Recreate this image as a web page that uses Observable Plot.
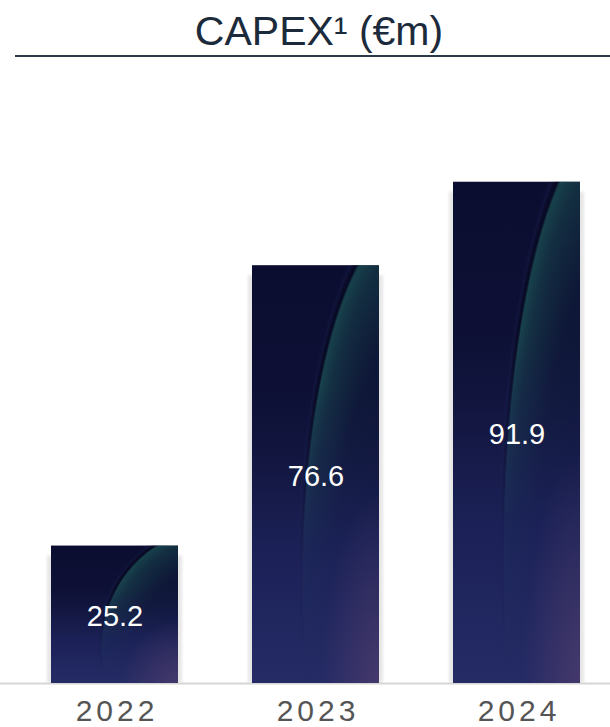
<!DOCTYPE html>
<html>
<head>
<meta charset="utf-8">
<script src="https://cdn.jsdelivr.net/npm/d3@7"></script>
<script src="https://cdn.jsdelivr.net/npm/@observablehq/plot@0.6"></script>
<style>
  html, body { margin: 0; padding: 0; background: #ffffff; }
  #wrap { width: 610px; height: 727px; overflow: hidden; }
  #title {
    font-family: "Liberation Sans", Arial, sans-serif;
    font-size: 41px; line-height: 48px; color: #1c2b3b;
    text-align: center; margin-left: 15px; padding-left: 13px;
    padding-top: 7px; height: 48px; border-bottom: 2px solid #2b3a4a;
    white-space: nowrap;
  }
  #chart svg { display: block; overflow: visible; }
</style>
</head>
<body>
<div id="wrap">
  <div id="title">CAPEX¹ (€m)</div>
  <div id="chart"></div>
</div>
<script>
const years = ["2022", "2023", "2024"];
const capex = [25.2, 76.6, 91.9];
const valueLabels = ["25.2", "76.6", "91.9"];

const data = years.map((y, i) => ({year: y, value: capex[i], label: valueLabels[i]}));

const common = {x: "year", y: "value"};

const svg = Plot.plot({
  width: 610,
  height: 670,
  marginTop: 26,
  marginBottom: 44,
  marginLeft: 0,
  marginRight: 0,
  style: {fontFamily: "'Liberation Sans', Arial, sans-serif", fontSize: "30px", color: "#555555", background: "white"},
  x: {domain: years, range: [20, 610], paddingInner: 0.37, paddingOuter: 0.149, label: null, tickSize: 0, tickPadding: 16},
  y: {domain: [0, 110], axis: null},
  marks: [
    Plot.barY(data, {...common, fill: "#000000", insetTop: 10}),
    Plot.ruleY([0], {stroke: "#d6d6d6", strokeWidth: 2}),
    Plot.barY(data, {...common, fill: "url(#capBase)"}),
    Plot.barY(data, {...common, fill: "url(#capTeal)"}),
    Plot.barY(data, {...common, fill: "url(#capBottom)"}),
    Plot.barY(data, {...common, fill: "url(#capPurple)"}),
    Plot.text(data, {x: "year", y: d => d.value / 2, text: "label", fill: "white", fontSize: 29, dy: 2})
  ]
});

const defs = `
<defs>
  <linearGradient id="capBase" x1="0" y1="0" x2="0" y2="1">
    <stop offset="0" stop-color="#0b0d30"/>
    <stop offset="0.5" stop-color="#0f1238"/>
    <stop offset="1" stop-color="#20265e"/>
  </linearGradient>
  <radialGradient id="capTeal" cx="1.26" cy="0.75" r="0.915">
    <stop offset="0" stop-color="#1a4e50" stop-opacity="0"/>
    <stop offset="0.65" stop-color="#1a4e50" stop-opacity="0.12"/>
    <stop offset="0.86" stop-color="#1a4e50" stop-opacity="0.5"/>
    <stop offset="0.935" stop-color="#1c5656" stop-opacity="0.7"/>
    <stop offset="0.948" stop-color="#07091f" stop-opacity="0.7"/>
    <stop offset="0.962" stop-color="#07091f" stop-opacity="0.5"/>
    <stop offset="0.978" stop-color="#1c2658" stop-opacity="0.25"/>
    <stop offset="1" stop-color="#0b0d2a" stop-opacity="0"/>
  </radialGradient>
  <linearGradient id="capBottom" x1="0" y1="0" x2="0" y2="1">
    <stop offset="0" stop-color="#161b48" stop-opacity="0"/>
    <stop offset="0.3" stop-color="#161b48" stop-opacity="0"/>
    <stop offset="0.68" stop-color="#1c2259" stop-opacity="0.85"/>
    <stop offset="1" stop-color="#252b65" stop-opacity="1"/>
  </linearGradient>
  <radialGradient id="capPurple" cx="1" cy="1" r="0.45">
    <stop offset="0" stop-color="#56406e" stop-opacity="0.65"/>
    <stop offset="1" stop-color="#56406e" stop-opacity="0"/>
  </radialGradient>
  <filter id="capShadow" x="-20%" y="-20%" width="140%" height="140%">
    <feMorphology in="SourceAlpha" operator="dilate" radius="4 0"/>
    <feGaussianBlur stdDeviation="1.5"/>
    <feComponentTransfer><feFuncA type="linear" slope="0.1"/></feComponentTransfer>
  </filter>
</defs>`;
svg.insertAdjacentHTML("afterbegin", defs);

const barGroups = svg.querySelectorAll('g[aria-label="bar"]');
if (barGroups.length) barGroups[0].setAttribute("filter", "url(#capShadow)");

svg.querySelectorAll('g[aria-label^="x-axis"] text').forEach(t => {
  t.setAttribute("letter-spacing", "4");
  t.setAttribute("dx", "2");
  t.setAttribute("fill", "#555555");
});

document.getElementById("chart").appendChild(svg);
</script>
</body>
</html>
